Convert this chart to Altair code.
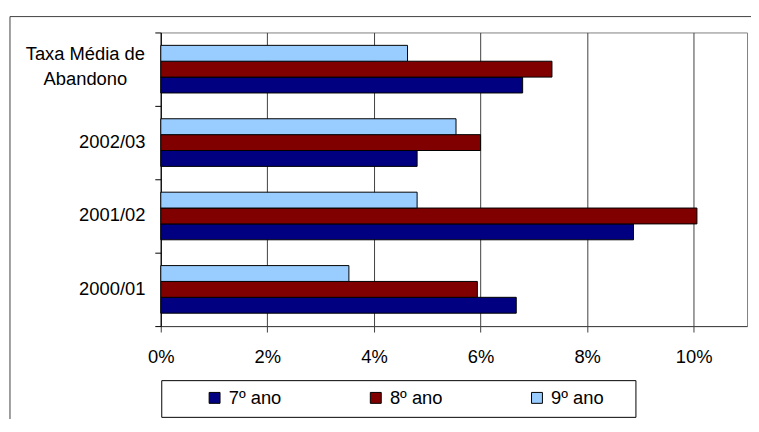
import altair as alt
import pandas as pd

categories = ["Taxa Média de Abandono", "2002/03", "2001/02", "2000/01"]
series = ["7º ano", "8º ano", "9º ano"]
ano7 = [6.79, 4.81, 8.87, 6.67]
ano8 = [7.34, 6.00, 10.06, 5.94]
ano9 = [4.63, 5.54, 4.81, 3.53]
colors = ["#000080", "#800000", "#99CCFF"]
x_ticks = [0, 2, 4, 6, 8, 10]

rows = []
for s, vals in zip(series, [ano7, ano8, ano9]):
    for c, v in zip(categories, vals):
        rows.append({"cat": c, "serie": s, "taxa": v / 100})
df = pd.DataFrame(rows)

FONT = "Liberation Sans"
FS = 18.5
TAXA_TEST = "datum.value == 'Taxa Média de Abandono'"

bars = alt.Chart(df).mark_bar(stroke="black", strokeWidth=1, opacity=1).encode(
    x=alt.X(
        "taxa:Q",
        scale=alt.Scale(domain=[0, 0.11], nice=False, zero=True),
        axis=alt.Axis(
            format=".0%", values=[t / 100 for t in x_ticks], title=None,
            grid=True, gridColor="#404040", gridWidth=1, labelFlush=False,
            domainColor="#404040", tickColor="#404040", tickSize=6,
            labelPadding=16, labelFontSize=FS, labelColor="black", labelFont=FONT,
        ),
    ),
    y=alt.Y(
        "cat:N", sort=categories,
        scale=alt.Scale(paddingInner=0, paddingOuter=0),
        axis=alt.Axis(
            title=None, tickBand="extent", grid=False,
            domainColor="black", tickColor="black", tickSize=6,
            labelFontSize=FS, labelColor="black", labelFont=FONT,
            labelLimit=400, labelLineHeight=25.5,
            labelAlign={"condition": {"test": TAXA_TEST, "value": "center"}, "value": "right"},
            labelPadding={"condition": {"test": TAXA_TEST, "value": 70.5}, "value": 10},
            labelOffset={"condition": {"test": TAXA_TEST, "value": -16}, "value": -1},
            labelExpr="datum.value == 'Taxa Média de Abandono' ? ['Taxa Média de', 'Abandono'] : datum.value",
        ),
    ),
    yOffset=alt.YOffset("serie:N", sort=["9º ano", "8º ano", "7º ano"],
                        scale=alt.Scale(paddingInner=0, paddingOuter=0.8125)),
    color=alt.Color(
        "serie:N",
        scale=alt.Scale(domain=series, range=colors),
        legend=alt.Legend(
            title=None, orient="none", legendX=45, legendY=359,
            direction="horizontal", symbolType="square", symbolSize=121,
            symbolStrokeColor="black", symbolStrokeWidth=1, symbolOpacity=1,
            labelFontSize=FS, labelFont=FONT, labelColor="black",
            labelOffset=5, columnPadding=85.5, padding=0,
        ),
    ),
)

one = pd.DataFrame({"k": [0]})
frame = alt.Chart(one).mark_rect(filled=False, stroke="#404040", strokeWidth=1).encode(
    x=alt.value(-152), x2=alt.value(700), y=alt.value(-16), y2=alt.value(500)
)
legbox = alt.Chart(one).mark_rect(filled=False, stroke="black", strokeWidth=1).encode(
    x=alt.value(1), x2=alt.value(479), y=alt.value(351), y2=alt.value(388)
)

chart = alt.layer(frame, legbox, bars).properties(
    width=591, height=296,
    padding={"left": 154, "top": 23, "right": 4, "bottom": 92},
    autosize="none",
    background="white",
).configure(font=FONT).configure_view(stroke="#808080", strokeWidth=1)

chart.save("out.html", embed_options={"renderer": "svg", "actions": False})
